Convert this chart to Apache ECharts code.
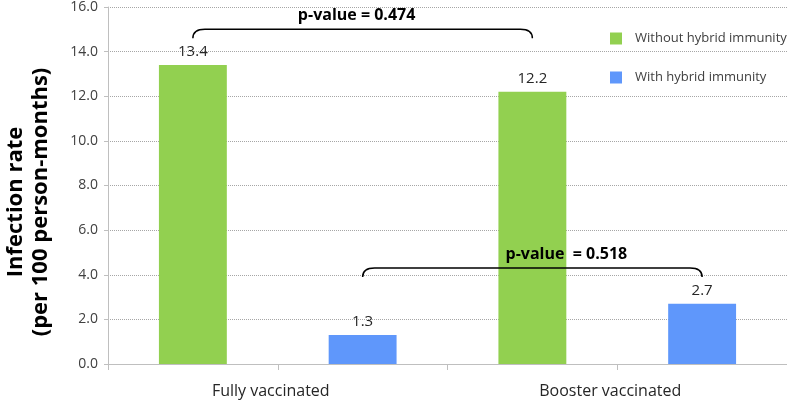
<!DOCTYPE html>
<html>
<head>
<meta charset="utf-8">
<script src="https://cdn.jsdelivr.net/npm/echarts@6/dist/echarts.min.js"></script>
<style>
  html, body { margin: 0; padding: 0; background: #fff; }
  #chart { width: 787px; height: 403px; }
</style>
</head>
<body>
<div id="chart"></div>
<script>
// categories and values
const categories = ['Fully vaccinated', 'Booster vaccinated'];
const subSlots = ['s1', 's2', 's3', 's4'];
const withoutHybrid = [13.4, 12.2];
const withHybrid = [1.3, 2.7];
const seriesNames = ['Without hybrid immunity', 'With hybrid immunity'];

// p-value brackets: from slot -> to slot, at level (infection rate units)
const bracketFrom = [0, 1];
const bracketTo = [2, 3];
const bracketLevel = [15.0, 4.3];
const bracketLabels = ['p-value = 0.474', 'p-value  = 0.518'];

const yMin = 0;
const yMax = 16;
const yStep = 2;

const FONT = "'Open Sans', sans-serif";
const GREEN = '#92d050';
const BLUE = '#5f97fb';
const GRID_GREY = '#bfbfbf';
// label shift (px) for each bracket text
const bracketTextShift = [-6, 34];

const chart = echarts.init(document.getElementById('chart'));

const bracketData = bracketFrom.map((f, i) => [f, bracketTo[i], bracketLevel[i], i]);

const option = {
  animation: false,
  textStyle: { fontFamily: FONT },
  grid: { left: 108, right: 0, top: 5, bottom: 39, containLabel: false },
  legend: {
    orient: 'vertical',
    left: 605,
    top: 26,
    itemWidth: 12,
    itemHeight: 12,
    itemGap: 24,
    icon: 'rect',
    textStyle: { fontFamily: FONT, fontSize: 13, color: '#404040', lineHeight: 15, padding: [0, 0, 0, 8] },
    data: seriesNames
  },
  xAxis: [
    {
      type: 'category',
      data: categories,
      axisLine: { lineStyle: { color: GRID_GREY } },
      axisTick: { show: false },
      axisLabel: { fontFamily: FONT, fontSize: 16, color: '#262626', margin: 19, padding: [0, 14, 0, 0] }
    },
    {
      type: 'category',
      data: subSlots,
      position: 'bottom',
      axisLine: { show: false },
      axisLabel: { show: false },
      axisTick: { show: true, length: 6, lineStyle: { color: GRID_GREY } }
    }
  ],
  yAxis: {
    type: 'value',
    min: yMin,
    max: yMax,
    interval: yStep,
    axisLine: { show: true, lineStyle: { color: GRID_GREY } },
    axisTick: { show: true, length: 4, lineStyle: { color: GRID_GREY } },
    axisLabel: {
      fontFamily: FONT, fontSize: 14, color: '#404040', margin: 10,
      formatter: v => v.toFixed(1)
    },
    splitLine: { lineStyle: { type: 'dotted', color: '#a6a6a6', width: 1 } }
  },
  graphic: [
    {
      type: 'text',
      x: 28,
      y: 202,
      rotation: Math.PI / 2,
      style: {
        text: 'Infection rate\n(per 100 person-months)',
        font: 'bold 22px ' + FONT,
        fill: '#000',
        align: 'center',
        verticalAlign: 'middle',
        lineHeight: 25
      }
    }
  ],
  series: [
    {
      name: seriesNames[0],
      type: 'bar',
      xAxisIndex: 0,
      data: withoutHybrid,
      barCategoryGap: '30%',
      barGap: '150%',
      itemStyle: { color: GREEN },
      label: {
        show: true, position: 'top', distance: 6,
        fontFamily: FONT, fontSize: 15, color: '#262626',
        formatter: p => p.value.toFixed(1)
      }
    },
    {
      name: seriesNames[1],
      type: 'bar',
      xAxisIndex: 0,
      data: withHybrid,
      barCategoryGap: '30%',
      barGap: '150%',
      itemStyle: { color: BLUE },
      label: {
        show: true, position: 'top', distance: 6,
        fontFamily: FONT, fontSize: 15, color: '#262626',
        formatter: p => p.value.toFixed(1)
      }
    },
    {
      type: 'custom',
      xAxisIndex: 1,
      z: 10,
      data: bracketData,
      encode: { x: [0, 1], y: 2 },
      renderItem: function (params, api) {
        const a = api.coord([api.value(0), api.value(2)]);
        const b = api.coord([api.value(1), api.value(2)]);
        const idx = api.value(3);
        const drop = 9;
        const r = 12;
        const y = a[1];
        const path = 'M' + a[0] + ' ' + (y + drop) +
          ' Q' + a[0] + ' ' + y + ' ' + (a[0] + r) + ' ' + y +
          ' L' + (b[0] - r) + ' ' + y +
          ' Q' + b[0] + ' ' + y + ' ' + b[0] + ' ' + (y + drop);
        return {
          type: 'group',
          children: [
            {
              type: 'path',
              shape: { pathData: path },
              style: { stroke: '#000', lineWidth: 1.5, fill: null }
            },
            {
              type: 'text',
              x: (a[0] + b[0]) / 2 + bracketTextShift[idx],
              y: y - 14,
              style: {
                text: bracketLabels[idx],
                font: 'bold 16px ' + FONT,
                fill: '#000',
                align: 'center',
                verticalAlign: 'middle'
              }
            }
          ]
        };
      }
    }
  ]
};

chart.setOption(option);
</script>
</body>
</html>
